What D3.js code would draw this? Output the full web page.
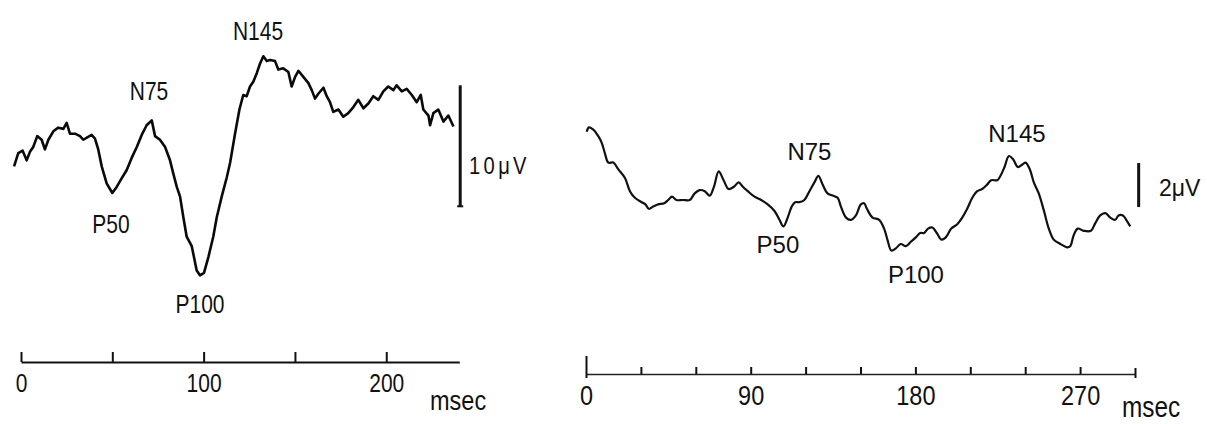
<!DOCTYPE html>
<html><head><meta charset="utf-8">
<script src="https://cdn.jsdelivr.net/npm/d3@7"></script>
<style>
html,body{margin:0;padding:0;background:#fff;}
svg{display:block;}
text{font-family:"Liberation Sans",Arial,Helvetica,sans-serif;}
</style></head><body>
<svg id="c" width="1207" height="424"></svg>
<script>
// ---- Left panel: VEP (time in ms, amplitude in µV, negative up) ----
const leftTime = [-3.8,-1.5,0.9,3.1,4.9,6.7,8.9,11.3,13.1,15.0,
  17.7,20.4,23.2,25.0,26.8,29.6,32.3,34.1,36.3,38.7,
  40.5,42.3,44.2,46.9,50.0,52.4,55.1,57.9,60.6,63.4,
  66.1,68.8,71.6,73.4,76.1,78.9,81.6,83.4,85.3,87.1,
  88.9,90.7,93.5,96.2,98.0,100.2,102.6,105.3,107.2,109.9,
  112.7,114.5,117.2,119.6,121.7,123.6,125.4,127.2,129.1,130.9,
  132.7,134.6,136.4,139.1,140.9,143.6,146.4,148.2,150.1,151.9,
  154.6,157.3,159.2,161.0,162.8,165.6,167.4,169.2,171.0,173.8,
  176.5,179.2,182.0,184.7,187.5,190.2,192.9,195.7,198.4,201.1,
  203.9,205.7,208.5,211.2,214.0,216.7,218.9,220.3,223.1,224.0,
  225.8,228.5,231.3,234.0,236.8];
const leftVolt = [-0.3,-1.4,-1.6,-0.8,-1.5,-1.9,-2.8,-2.5,-1.7,-2.5,
  -3.2,-3.5,-3.4,-3.9,-3.0,-3.0,-2.8,-2.5,-2.7,-2.9,
  -2.6,-1.7,-0.3,1.1,1.9,1.4,0.7,0.0,-1.0,-1.9,
  -2.9,-3.7,-4.1,-2.8,-2.5,-1.9,-0.8,0.3,1.4,2.2,
  3.9,5.5,6.3,8.3,8.7,8.5,7.2,5.5,3.9,2.2,
  0.6,-0.6,-3.0,-5.0,-6.2,-6.1,-6.9,-7.3,-8.0,-8.8,
  -9.4,-9.0,-9.1,-9.0,-8.3,-8.4,-8.1,-6.9,-7.7,-8.2,
  -7.7,-7.2,-6.6,-5.9,-6.3,-6.8,-6.1,-5.6,-4.8,-5.0,
  -4.4,-4.7,-5.2,-5.8,-5.1,-5.5,-6.1,-5.8,-6.5,-6.9,
  -6.6,-7.0,-6.5,-6.7,-6.2,-5.6,-6.2,-5.0,-4.5,-3.7,
  -4.7,-5.0,-4.0,-4.5,-3.6];
const leftTicks = [0,50,100,150,200];
const leftTickLabels = [0,100,200];
const leftPeakNames = ["N145","N75","P50","P100"];
const leftPeakTimes = [129.8,70.1,49.3,98.0];
const leftPeakVolts = [-10.74,-5.79,5.21,11.82];
const leftScaleBar = {label:"10μV", from:-7, to:3};

// ---- Right panel ----
const rightTime = [0.4,1.6,4.0,6.7,8.6,10.4,12.2,14.9,17.6,21.3,
  24.0,26.7,30.4,32.5,34.3,36.7,39.4,42.7,44.9,47.0,
  49.4,53.0,56.7,59.4,62.1,64.9,67.6,69.9,72.5,75.2,
  77.9,80.8,83.4,85.7,88.4,92.1,95.7,99.3,103.0,105.7,
  107.9,110.2,112.4,114.3,116.6,119.3,122.1,124.8,127.0,129.3,
  132.0,134.8,137.5,139.3,142.1,144.8,147.5,150.2,152.0,153.5,
  156.6,160.2,162.9,164.7,166.9,169.3,172.0,174.8,177.5,180.2,
  182.6,184.7,186.9,189.3,191.7,194.2,196.6,199.6,202.9,205.6,
  208.3,211.1,213.8,216.5,219.2,221.4,224.7,226.5,228.7,231.1,
  233.4,236.0,238.3,240.2,242.5,244.7,247.4,250.1,252.9,255.6,
  259.2,262.8,264.6,266.5,268.7,272.0,275.9,278.3,281.0,283.8,
  286.5,289.2,291.0,293.4,295.2,297.4];
const rightVolt = [-3.1,-3.3,-3.2,-2.9,-2.6,-2.1,-1.7,-1.7,-1.4,-1.0,
  -0.4,-0.1,0.1,0.2,0.4,0.3,0.2,0.15,0.0,-0.15,
  0.0,0.0,0.0,-0.3,-0.45,-0.4,-0.2,-0.6,-1.3,-0.9,
  -0.5,-0.6,-0.8,-0.6,-0.4,-0.15,0.0,0.2,0.5,0.9,
  1.2,0.8,0.3,0.1,0.1,0.0,-0.4,-0.8,-1.1,-0.7,
  -0.3,-0.2,-0.1,0.3,0.8,0.9,0.7,0.2,0.15,0.4,
  0.8,0.9,1.3,1.8,2.3,2.2,2.0,2.1,1.9,1.7,
  1.5,1.5,1.3,1.25,1.5,1.8,1.7,1.3,1.1,0.8,
  0.4,-0.1,-0.4,-0.5,-0.7,-0.9,-0.9,-1.1,-1.5,-2.0,
  -1.85,-1.5,-1.6,-1.7,-1.4,-0.8,-0.3,0.45,1.3,1.8,
  2.0,2.15,2.1,1.6,1.3,1.4,1.4,1.05,0.7,0.6,
  0.8,0.9,0.7,0.7,0.9,1.2];
const rightTicks = [0,30,60,90,120,150,180,210,240,270,300];
const rightTickLabels = [0,90,180,270];
const rightPeakNames = ["N75","P50","P100","N145"];
const rightPeakTimes = [122.1,104.9,180.3,235.5];
const rightPeakVolts = [-1.82,2.41,3.77,-2.64];
const rightScaleBar = {label:"2μV", from:-1.68, to:0.32};
const unitLabel = "msec";

const NARROW = 0.84; // condensed (narrow) look of the original lettering

const svg = d3.select("#c");
svg.append("rect").attr("width",1207).attr("height",424).attr("fill","#fff");

function narrowText(g, x, y, txt, size, anchor) {
  return g.append("text")
    .attr("transform", `translate(${x},${y}) scale(${NARROW},1)`)
    .attr("text-anchor", anchor || "start")
    .attr("font-size", size).attr("fill", "#111").text(txt);
}

// ===== Left =====
const xL = d3.scaleLinear().domain([0,240]).range([21,459.3]);
const yL = d3.scaleLinear().domain([-10,10]).range([49,291]);
const gL = svg.append("g");
gL.append("path")
  .datum(leftTime.map((t,i)=>[t,leftVolt[i]]))
  .attr("d", d3.line().x(d=>xL(d[0])).y(d=>yL(d[1])))
  .attr("fill","none").attr("stroke","#0a0a0a").attr("stroke-width",2.6)
  .attr("stroke-linejoin","round");

const axL = gL.append("g").attr("transform","translate(0,362)")
  .call(d3.axisBottom(xL).tickValues(leftTicks).tickSizeInner(-10).tickSizeOuter(0)
    .tickPadding(12).tickFormat(d=>leftTickLabels.includes(d)?String(d):""));
axL.select(".domain").attr("stroke","#111").attr("stroke-width",2);
axL.selectAll(".tick line").attr("stroke","#111").attr("stroke-width",2);
axL.selectAll(".tick text").attr("font-family","'Liberation Sans',Arial,sans-serif")
  .attr("font-size",25).attr("fill","#111")
  .attr("transform",`scale(${NARROW},1)`);

narrowText(gL, 430, 410, unitLabel, 28);

leftPeakNames.forEach((n,i)=>{
  narrowText(gL, xL(leftPeakTimes[i]), yL(leftPeakVolts[i]), n, 25, "middle");
});

const barXL = xL(240.5);
gL.append("line").attr("x1",barXL).attr("x2",barXL)
  .attr("y1",yL(leftScaleBar.from)).attr("y2",yL(leftScaleBar.to))
  .attr("stroke","#111").attr("stroke-width",3);
gL.append("line").attr("x1",barXL-3).attr("x2",barXL+3)
  .attr("y1",yL(leftScaleBar.to)).attr("y2",yL(leftScaleBar.to))
  .attr("stroke","#111").attr("stroke-width",2);
narrowText(gL, 469, 174, leftScaleBar.label, 24).attr("letter-spacing",4);

// ===== Right =====
const xR = d3.scaleLinear().domain([0,300]).range([586,1135]);
const yR = d3.scaleLinear().domain([-5,5]).range([90,310]);
const gR = svg.append("g");
gR.append("path")
  .datum(rightTime.map((t,i)=>[t,rightVolt[i]]))
  .attr("d", d3.line().curve(d3.curveCatmullRom.alpha(0.5)).x(d=>xR(d[0])).y(d=>yR(d[1])))
  .attr("fill","none").attr("stroke","#111").attr("stroke-width",2.2)
  .attr("stroke-linejoin","round");

const axR = gR.append("g").attr("transform","translate(0,374)")
  .call(d3.axisBottom(xR).tickValues(rightTicks).tickSizeInner(-7).tickSizeOuter(0)
    .tickPadding(11).tickFormat(d=>rightTickLabels.includes(d)?String(d):""));
axR.select(".domain").attr("stroke","#222").attr("stroke-width",1.6);
axR.selectAll(".tick line").attr("stroke","#111").attr("stroke-width",2);
axR.selectAll(".tick").filter(d=>d===0).select("line").attr("y1",4).attr("y2",-18);
axR.selectAll(".tick").filter(d=>d===300).select("line").attr("y1",4).attr("y2",-6);
axR.selectAll(".tick text").attr("font-family","'Liberation Sans',Arial,sans-serif")
  .attr("font-size",28).attr("fill","#111")
  .attr("transform",`scale(${NARROW},1)`);

narrowText(gR, 1122, 417, unitLabel, 29);

gR.selectAll("text.peak").data(rightPeakNames).join("text")
  .attr("class","peak").attr("text-anchor","middle")
  .attr("x",(d,i)=>xR(rightPeakTimes[i])).attr("y",(d,i)=>yR(rightPeakVolts[i]))
  .attr("font-size",24).attr("fill","#111").text(d=>d);

const barXR = xR(302);
gR.append("line").attr("x1",barXR).attr("x2",barXR)
  .attr("y1",yR(rightScaleBar.from)).attr("y2",yR(rightScaleBar.to))
  .attr("stroke","#111").attr("stroke-width",3);
gR.append("text").attr("x",1159).attr("y",196)
  .attr("font-size",23).attr("fill","#111").text(rightScaleBar.label);
</script>
</body></html>
